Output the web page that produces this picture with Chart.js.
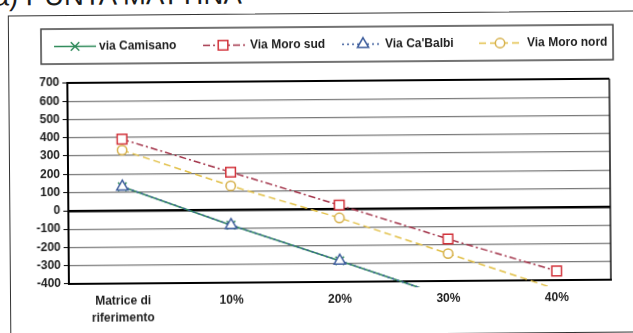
<!DOCTYPE html>
<html>
<head>
<meta charset="utf-8">
<script src="https://cdn.jsdelivr.net/npm/chart.js@4/dist/chart.umd.min.js"></script>
<style>
  html, body { margin: 0; padding: 0; background: #fff; overflow: hidden; }
  #page {
    position: relative; width: 633px; height: 333px;
    transform: rotate(-0.45deg); transform-origin: 316.5px 166.5px;
  }
  #heading {
    position: absolute; left: -5px; top: -20px; margin: 0;
    font: 27.5px/27.5px "Liberation Sans", Arial, sans-serif; color: #1b1b1b;
    white-space: nowrap;
  }
  #frame {
    position: absolute; left: 9px; top: 13px; width: 700px; height: 320px;
    border: 1.5px solid #333;
  }
  canvas { position: absolute; left: 0; top: 0; }
</style>
</head>
<body>
<div id="page">
  <div id="heading">a) PUNTA MATTINA</div>
  <div id="frame"></div>
  <canvas id="chart" width="633" height="333"></canvas>
</div>
<script>
// Categories along the x axis
const categories = [['Matrice di', 'riferimento'], '10%', '20%', '30%', '40%'];

// Series values
const viaCamisano = [130, -85, -285, -490, null];
const viaMoroSud  = [390, 205, 20, -170, -350];
const viaCaBalbi  = [130, -85, -285, -490, null];
const viaMoroNord = [330, 130, -50, -250, -450];

// Value axis
const yMin = -400;
const yMax = 700;
const yStep = 100;

const FONT = '"Liberation Sans", Arial, sans-serif';
const TEXT = '#1e1e1e';

const series = [
  { label: 'via Camisano', data: viaCamisano, color: '#2f8a5a', pointColor: '#2f8a5a',
    dash: [], style: 'crossRot', radius: 6, width: 1.6, order: 4 },
  { label: 'Via Moro sud', data: viaMoroSud, color: '#a3344a', pointColor: '#d2333b',
    dash: [7, 3, 2, 3], style: 'rect', radius: 6.8, width: 1.5, order: 3 },
  { label: "Via Ca'Balbi", data: viaCaBalbi, color: '#3b5b9b', pointColor: '#3b5b9b',
    dash: [2, 3], style: 'triangle', radius: 6.5, width: 1.5, order: 2 },
  { label: 'Via Moro nord', data: viaMoroNord, color: '#e2c048', pointColor: '#d6b04a',
    dash: [7, 4], style: 'circle', radius: 4.7, width: 1.5, order: 1 }
];

// Boxed legend with line + marker samples, and the right edge of the plot frame
const boxedLegend = {
  id: 'boxedLegend',
  afterDraw(chart) {
    const ctx = chart.ctx;
    const area = chart.chartArea;
    ctx.save();
    ctx.strokeStyle = '#111';
    ctx.lineWidth = 1.5;
    ctx.beginPath();
    ctx.moveTo(area.right, area.top);
    ctx.lineTo(area.right, area.bottom);
    ctx.stroke();

    ctx.strokeStyle = '#444';
    ctx.lineWidth = 1.5;
    ctx.strokeRect(42, 27, 572, 35);

    const cy = 44.5;
    const items = [
      { x0: 55, x1: 97, mx: 76, tx: 100 },
      { x0: 204, x1: 247, mx: 224, tx: 251 },
      { x0: 343, x1: 383, mx: 364, tx: 386 },
      { x0: 480, x1: 523, mx: 501, tx: 528 }
    ];
    items.forEach((it, i) => {
      const s = series[i];
      ctx.setLineDash(s.dash);
      ctx.strokeStyle = s.color;
      ctx.lineWidth = s.width;
      ctx.beginPath();
      ctx.moveTo(it.x0, cy);
      ctx.lineTo(it.x1, cy);
      ctx.stroke();
      ctx.setLineDash([]);
      ctx.strokeStyle = s.pointColor;
      ctx.fillStyle = '#fff';
      ctx.lineWidth = 1.5;
      Chart.helpers.drawPoint(ctx, { pointStyle: s.style, radius: s.radius, rotation: 0, borderWidth: 1.5 }, it.mx, cy);
      ctx.fillStyle = TEXT;
      ctx.font = 'bold 12px ' + FONT;
      ctx.textAlign = 'left';
      ctx.textBaseline = 'middle';
      ctx.fillText(s.label, it.tx, cy);
    });
    ctx.restore();
  }
};

new Chart(document.getElementById('chart'), {
  type: 'line',
  data: {
    labels: categories,
    datasets: series.map(s => ({
      label: s.label,
      data: s.data,
      order: s.order,
      borderColor: s.color,
      borderWidth: s.width,
      borderDash: s.dash,
      fill: false,
      tension: 0,
      pointStyle: s.style,
      pointRadius: s.radius,
      pointBorderColor: s.pointColor,
      pointBackgroundColor: '#fff',
      pointBorderWidth: 1.5,
      clip: { left: 0, top: 0, right: 0, bottom: 6 }
    }))
  },
  options: {
    responsive: false,
    animation: false,
    layout: { padding: { top: 81, right: 23, bottom: 0, left: 0 } },
    plugins: { legend: { display: false }, tooltip: { enabled: false }, title: { display: false } },
    scales: {
      x: {
        offset: true,
        grid: { display: false, drawTicks: false },
        border: { display: true, color: '#000', width: 2 },
        ticks: { color: TEXT, font: { family: FONT, size: 12, weight: 'bold', lineHeight: 1.45 },
                 padding: 9, maxRotation: 0, autoSkip: false },
        afterFit(scale) { scale.height = 51; }
      },
      y: {
        min: yMin,
        max: yMax,
        grid: {
          color: c => (c.tick && (c.tick.value === 0 || c.tick.value === yMax)) ? '#000' : '#7a7a7a',
          lineWidth: c => (c.tick && c.tick.value === 0) ? 2.5 : (c.tick && c.tick.value === yMax ? 2 : 1.2),
          tickColor: '#000',
          tickLength: 5,
          tickWidth: 1
        },
        border: { display: true, color: '#000', width: 2 },
        ticks: { stepSize: yStep, color: TEXT, padding: 3,
                 font: { family: FONT, size: 12, weight: 'bold' } },
        afterFit(scale) { scale.width = 68; }
      }
    }
  },
  plugins: [boxedLegend]
});
</script>
</body>
</html>
